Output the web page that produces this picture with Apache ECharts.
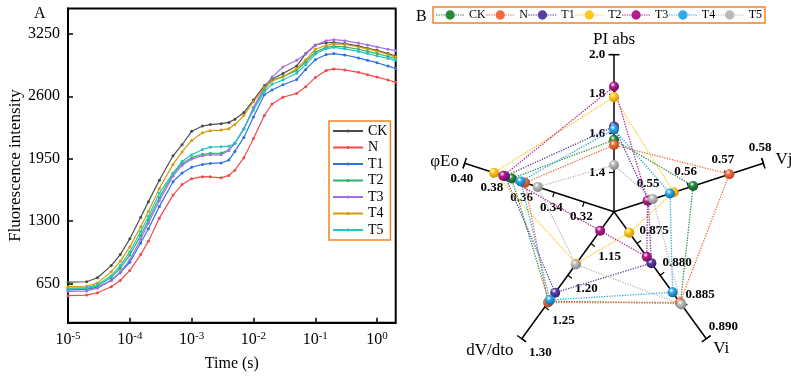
<!DOCTYPE html>
<html>
<head>
<meta charset="utf-8">
<script src="https://cdn.jsdelivr.net/npm/echarts@6/dist/echarts.min.js"></script>
<style>
  html, body { margin: 0; padding: 0; background: #fff; }
  #main { width: 791px; height: 378px; }
</style>
</head>
<body>
<div id="main"></div>
<script>
// ---- panel A : OJIP transients ----
var times = [0.00001, 0.00002, 0.00003, 0.00005, 0.00007, 0.0001, 0.00015, 0.0002, 0.0003, 0.0005, 0.0007,
  0.001, 0.0015, 0.002, 0.003, 0.004, 0.005, 0.007, 0.01, 0.015, 0.02, 0.03, 0.05, 0.07,
  0.1, 0.15, 0.2, 0.3, 0.5, 0.7, 1, 1.5, 2];
var fCK = [662, 667, 708, 835, 950, 1115, 1340, 1502, 1725, 1980, 2095, 2235, 2290, 2305, 2315, 2328, 2360, 2430,
  2560, 2710, 2780, 2838, 2915, 3045, 3135, 3158, 3160, 3150, 3125, 3100, 3080, 3045, 3020];
var fN = [522, 528, 552, 615, 680, 785, 950, 1090, 1330, 1570, 1680, 1740, 1762, 1760, 1750, 1775, 1830, 1960,
  2160, 2400, 2520, 2590, 2630, 2700, 2795, 2870, 2885, 2875, 2850, 2825, 2800, 2770, 2745];
var fT1 = [582, 587, 610, 680, 760, 870, 1070, 1220, 1450, 1710, 1800, 1860, 1890, 1900, 1905, 1935, 2025, 2170,
  2385, 2615, 2665, 2720, 2775, 2880, 2980, 3035, 3045, 3030, 3000, 2975, 2950, 2915, 2890];
var fT2 = [592, 596, 625, 712, 808, 945, 1150, 1310, 1545, 1790, 1900, 1960, 1995, 2005, 2008, 2040, 2110, 2260,
  2475, 2670, 2770, 2805, 2870, 2960, 3060, 3110, 3122, 3115, 3090, 3068, 3045, 3015, 2995];
var fT3 = [565, 570, 600, 680, 770, 895, 1110, 1280, 1510, 1770, 1880, 1945, 1980, 1990, 1990, 2035, 2110, 2260,
  2485, 2690, 2800, 2905, 2975, 3040, 3130, 3180, 3190, 3180, 3155, 3135, 3115, 3090, 3075];
var fT4 = [615, 620, 655, 770, 880, 1030, 1240, 1400, 1640, 1890, 2020, 2140, 2220, 2242, 2248, 2262, 2305, 2400,
  2543, 2692, 2760, 2802, 2890, 2980, 3090, 3130, 3145, 3140, 3115, 3095, 3070, 3035, 3010];
var fT5 = [600, 605, 638, 730, 835, 980, 1190, 1350, 1590, 1800, 1920, 1990, 2045, 2070, 2075, 2080, 2110, 2265,
  2455, 2647, 2726, 2770, 2840, 2930, 3040, 3095, 3110, 3095, 3068, 3045, 3020, 2995, 2975];
var groups = ['CK', 'N', 'T1', 'T2', 'T3', 'T4', 'T5'];
var curves = [fCK, fN, fT1, fT2, fT3, fT4, fT5];
var lineColors = ['#4d4d4d', '#f24a4a', '#2f70e0', '#2eb36b', '#a56fe6', '#d29c0a', '#22c5c5'];
var yTicks = [650, 1300, 1950, 2600, 3250];

// ---- panel B : radar of JIP parameters ----
var indicatorNames = ['PI abs', 'φEo', 'dV/dto', 'Vi', 'Vj'];
var indicatorMin = [1.2, 0.30, 1.10, 0.870, 0.54];
var indicatorMax = [2.0, 0.40, 1.30, 0.890, 0.58];
var labelDigits = [1, 2, 2, 3, 2];
var rCK = [1.566, 0.3685, 1.241, 0.8844, 0.5612];
var rN = [1.540, 0.3596, 1.243, 0.8843, 0.5709];
var rT1 = [1.634, 0.373, 1.2275, 0.8781, 0.5492];
var rT2 = [1.784, 0.3804, 1.182, 0.8733, 0.556];
var rT3 = [1.838, 0.3741, 1.130, 0.8771, 0.549];
var rT4 = [1.620, 0.3625, 1.239, 0.8827, 0.555];
var rT5 = [1.438, 0.3511, 1.183, 0.8846, 0.5504];
var radarValues = [rCK, rN, rT1, rT2, rT3, rT4, rT5];
var radarColors = ['#2a8a3c', '#f26a3a', '#5a3f9e', '#ffc61e', '#b01f8c', '#2ea8ea', '#b9b9b9'];
var radarDark = ['#15571f', '#b5421a', '#33206e', '#cf9300', '#720d5b', '#16679f', '#858585'];

var serif = 'Liberation Serif';
var orange = '#f5821f';

// where each axis puts its tick labels and its name (PI abs, φEo, dV/dto, Vi, Vj)
var labelPlace = [
  {align: 'center', verticalAlign: 'middle', margin: 17},
  {align: 'center', verticalAlign: 'top', margin: 9},
  {align: 'center', verticalAlign: 'middle', margin: 23},
  {align: 'center', verticalAlign: 'middle', margin: 21},
  {align: 'center', verticalAlign: 'bottom', margin: 10}
];
var nameGaps = [-2, 6, 14, 12, 9];

function ball(c, dark) {
  return {
    type: 'radial', x: 0.38, y: 0.32, r: 0.7,
    colorStops: [{offset: 0, color: '#ffffff'}, {offset: 0.35, color: c}, {offset: 1, color: dark}]
  };
}

// legend icon for the radar: dotted line with a ball in the middle
var iconPath = 'path://';
for (var k = 0; k < 4; k++) {
  iconPath += 'M' + (k * 2.6) + ',4.4h1.5v1.2h-1.5z';
  iconPath += 'M' + (20.5 + k * 2.6) + ',4.4h1.5v1.2h-1.5z';
}
iconPath += 'M20,5A5,5 0 1 1 10,5A5,5 0 1 1 20,5z';

function radarIndicators(isFive) {
  return indicatorNames.map(function (n, i) {
    var own = isFive ? (i === 1) : (i !== 1);
    var d = labelDigits[i];
    var lab = {show: false};
    if (own) {
      lab = Object.assign({formatter: function (v) { return (+v).toFixed(d); }}, labelPlace[i]);
    }
    return {
      name: n,
      min: indicatorMin[i],
      max: indicatorMax[i],
      nameGap: nameGaps[i],
      axisLabel: lab,
      axisTick: own ? {} : {show: false}
    };
  });
}

var radarCommon = {
  center: [614, 211.7],
  radius: 157,
  startAngle: 90,
  shape: 'polygon',
  splitLine: {show: false},
  splitArea: {show: false},
  axisTick: {show: true, length: 5, lineStyle: {color: '#000', width: 1.2}},
  axisLabel: {show: true, showMinLabel: false, color: '#000', fontWeight: 'bold', fontSize: 13, fontFamily: serif}
};

var series = [];
curves.forEach(function (arr, i) {
  series.push({
    name: groups[i],
    type: 'line',
    xAxisIndex: 0,
    yAxisIndex: 0,
    data: times.map(function (t, j) { return [t, arr[j]]; }),
    symbol: 'circle',
    symbolSize: 3,
    lineStyle: {width: 1.2, color: lineColors[i]},
    itemStyle: {color: lineColors[i]}
  });
});
radarValues.forEach(function (vals, i) {
  series.push({
    name: groups[i] + '-r',
    type: 'radar',
    radarIndex: 0,
    symbol: 'circle',
    symbolSize: 10,
    data: [{value: vals, name: groups[i] + '-r'}],
    lineStyle: {type: 'dotted', width: 1.3, color: radarColors[i]},
    itemStyle: {color: ball(radarColors[i], radarDark[i])}
  });
});

var chart = echarts.init(document.getElementById('main'));
chart.setOption({
  animation: false,
  textStyle: {fontFamily: serif, color: '#000'},
  title: [
    {text: 'A', left: 34, top: 6, padding: 0, textStyle: {fontSize: 16, fontWeight: 'normal', fontFamily: serif, color: '#000'}},
    {text: 'B', left: 416, top: 9, padding: 0, textStyle: {fontSize: 16, fontWeight: 'normal', fontFamily: serif, color: '#000'}}
  ],
  grid: {left: 68, top: 8.5, width: 327.7, height: 314.2, show: true, borderColor: '#000', borderWidth: 2},
  xAxis: {
    type: 'log', logBase: 10, min: 0.00001, max: 2,
    name: 'Time (s)', nameLocation: 'middle', nameGap: 33,
    nameTextStyle: {fontSize: 16, fontFamily: serif, color: '#000'},
    axisLine: {lineStyle: {color: '#000', width: 2}},
    axisTick: {inside: true, length: 5, lineStyle: {color: '#000', width: 1.5}},
    splitLine: {show: false},
    axisLabel: {
      color: '#000', fontSize: 16, fontFamily: serif, margin: 8, showMaxLabel: false,
      formatter: function (v) { return '10{s|' + Math.round(Math.log10(v)) + '}'; },
      rich: {s: {fontSize: 11, fontFamily: serif, color: '#000', verticalAlign: 'top', padding: [0, 0, 8, 0]}}
    }
  },
  yAxis: {
    type: 'value', min: 240, max: 3515,
    name: 'Fluorescence intensity', nameLocation: 'middle', nameGap: 41,
    nameTextStyle: {fontSize: 17, fontFamily: serif, color: '#000'},
    axisLine: {show: true, lineStyle: {color: '#000', width: 2}},
    axisTick: {inside: true, length: 5, customValues: yTicks, lineStyle: {color: '#000', width: 1.5}},
    splitLine: {show: false},
    axisLabel: {
      color: '#000', fontSize: 16, fontFamily: serif, margin: 8, customValues: yTicks,
      formatter: function (v) { return String(v); }
    }
  },
  legend: [
    {
      orient: 'vertical', left: 329, top: 121,
      data: groups,
      itemWidth: 30, itemHeight: 4, itemGap: 2.5,
      lineStyle: {width: 2},
      padding: [3, 3], borderColor: orange, borderWidth: 1.5,
      textStyle: {fontSize: 14, fontFamily: serif, color: '#000'}
    },
    {
      orient: 'horizontal', left: 433, top: 7, width: 350,
      data: groups.map(function (g, i) { return {name: g + '-r', itemStyle: {color: radarColors[i], borderWidth: 0}}; }),
      formatter: function (n) { return n.replace('-r', ''); },
      icon: iconPath,
      itemWidth: 28, itemHeight: 10, itemGap: 0.5,
      padding: [2, 3], borderColor: orange, borderWidth: 1.5,
      textStyle: {fontSize: 12, fontFamily: serif, color: '#000'}
    }
  ],
  radar: [
    Object.assign({}, radarCommon, {
      splitNumber: 4,
      axisName: {color: '#000', fontSize: 17, fontFamily: serif},
      axisLine: {lineStyle: {color: '#000', width: 1.5}, symbol: ['none', 'rect'], symbolSize: [11, 1.5]},
      indicator: radarIndicators(false)
    }),
    Object.assign({}, radarCommon, {
      splitNumber: 5,
      axisName: {show: false},
      axisLine: {show: false},
      indicator: radarIndicators(true)
    })
  ],
  series: series
});
</script>
</body>
</html>
